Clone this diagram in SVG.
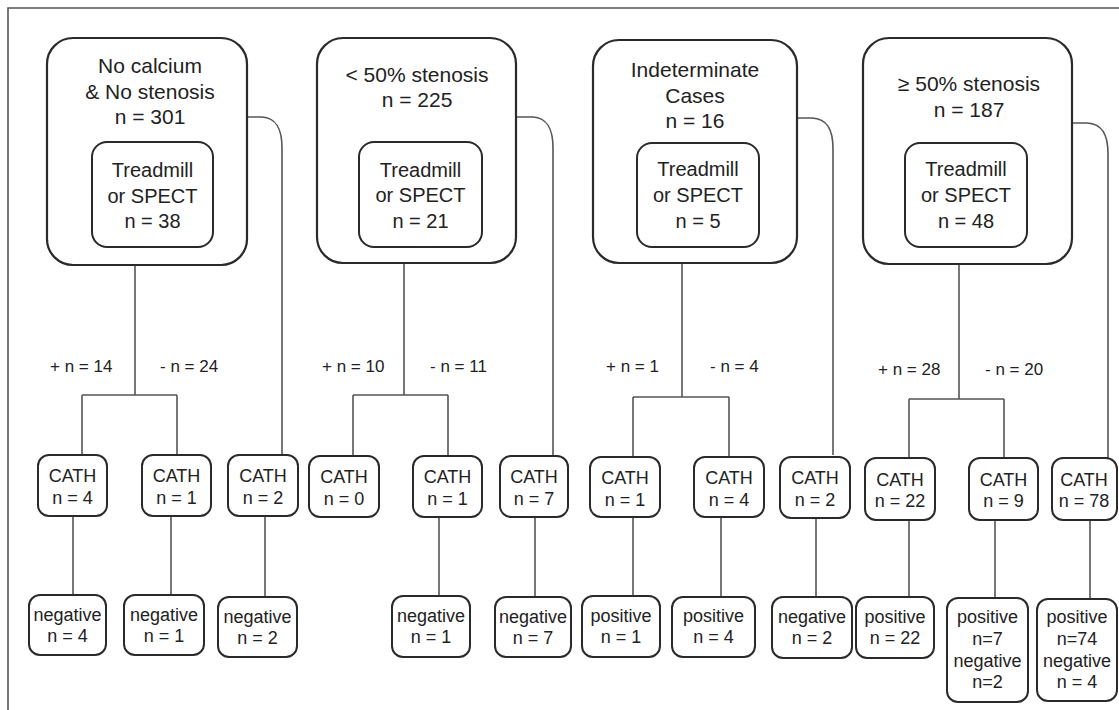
<svg xmlns="http://www.w3.org/2000/svg" width="1119" height="710" viewBox="0 0 1119 710">
<style>
.o{fill:#fff;stroke:#2a2a2a;stroke-width:2.2}
.b{fill:#fff;stroke:#2a2a2a;stroke-width:2}
.c{fill:none;stroke:#555;stroke-width:1.6}
text{font-family:"Liberation Sans",Arial,sans-serif;fill:#222;text-anchor:middle}
.t1{font-size:21px}
.t2{font-size:20px}
.t3{font-size:18px}
.lb{font-size:17px;text-anchor:start}
</style>
<rect x="0" y="0" width="1119" height="710" fill="#fff"/>
<path d="M8,710 V8 H1119" fill="none" stroke="#555" stroke-width="1.6"/>

<g id="connectors">
  <path class="c" d="M247,117 H262 C276,118 282,128 282,148 V455"/>
  <path class="c" d="M135,247 V395 M82,395 H177 M82,395 V455 M177,395 V455"/>
  <path class="c" d="M73,516 V595 M171,516 V595 M265,516 V597"/>
  <path class="c" d="M516,117 H533 C547,118 553,128 553,148 V455"/>
  <path class="c" d="M404,247 V395 M353,395 H448 M353,395 V455 M448,395 V455"/>
  <path class="c" d="M439,517 V596 M535,517 V597"/>
  <path class="c" d="M797,118 H812 C827,119 833,129 833,149 V455"/>
  <path class="c" d="M682,247 V397 M633,397 H729 M633,397 V457 M729,397 V457"/>
  <path class="c" d="M633,517 V596 M721,517 V597 M816,518 V597"/>
  <path class="c" d="M1072,123 H1087 C1102,124 1108,134 1108,154 V458"/>
  <path class="c" d="M959,247 V399 M909,399 H1004 M909,399 V458 M1004,399 V458"/>
  <path class="c" d="M909,520 V597 M995,520 V598 M1090,520 V599"/>
</g>

<g id="labels">
  <text class="lb" x="50" y="372">+ n = 14</text>
  <text class="lb" x="160" y="372">- n = 24</text>
  <text class="lb" x="322" y="372">+ n = 10</text>
  <text class="lb" x="430" y="372">- n = 11</text>
  <text class="lb" x="606" y="372">+ n = 1</text>
  <text class="lb" x="710" y="372">- n = 4</text>
  <text class="lb" x="878" y="375">+ n = 28</text>
  <text class="lb" x="985" y="375">- n = 20</text>
</g>

<g id="group-no-calcium">
  <rect class="o" x="47" y="38" width="200" height="227" rx="26"/>
  <text class="t1" x="150" y="73">No calcium</text>
  <text class="t1" x="150" y="99">&amp; No stenosis</text>
  <text class="t1" x="150" y="124">n = 301</text>
</g>
<g id="test-1">
  <rect class="b" x="92" y="142" width="121" height="105" rx="15"/>
  <text class="t2" x="152.5" y="177">Treadmill</text>
  <text class="t2" x="152.5" y="203">or SPECT</text>
  <text class="t2" x="152.5" y="228">n = 38</text>
</g>
<g id="cath-1a">
  <rect class="b" x="38" y="455" width="69" height="61" rx="11"/>
  <text class="t3" x="72.5" y="482">CATH</text>
  <text class="t3" x="72.5" y="504">n = 4</text>
</g>
<g id="cath-1b">
  <rect class="b" x="142" y="455" width="69" height="61" rx="11"/>
  <text class="t3" x="176.5" y="482">CATH</text>
  <text class="t3" x="176.5" y="504">n = 1</text>
</g>
<g id="cath-1c">
  <rect class="b" x="228" y="455" width="70" height="61" rx="11"/>
  <text class="t3" x="263" y="482">CATH</text>
  <text class="t3" x="263" y="504">n = 2</text>
</g>
<g id="res-1a">
  <rect class="b" x="29" y="595" width="77" height="60" rx="11"/>
  <text class="t3" x="67.5" y="621">negative</text>
  <text class="t3" x="67.5" y="642">n = 4</text>
</g>
<g id="res-1b">
  <rect class="b" x="124" y="595" width="80" height="60" rx="11"/>
  <text class="t3" x="164" y="621">negative</text>
  <text class="t3" x="164" y="642">n = 1</text>
</g>
<g id="res-1c">
  <rect class="b" x="218" y="597" width="79" height="60" rx="11"/>
  <text class="t3" x="257.5" y="623">negative</text>
  <text class="t3" x="257.5" y="644">n = 2</text>
</g>

<g id="group-lt50">
  <rect class="o" x="317" y="38" width="199" height="225" rx="26"/>
  <text class="t1" x="417" y="82">&lt; 50% stenosis</text>
  <text class="t1" x="417" y="107">n = 225</text>
</g>
<g id="test-2">
  <rect class="b" x="359" y="142" width="123" height="105" rx="15"/>
  <text class="t2" x="420.5" y="177">Treadmill</text>
  <text class="t2" x="420.5" y="202">or SPECT</text>
  <text class="t2" x="420.5" y="228">n = 21</text>
</g>
<g id="cath-2a">
  <rect class="b" x="309" y="456" width="70" height="61" rx="11"/>
  <text class="t3" x="344" y="483">CATH</text>
  <text class="t3" x="344" y="505">n = 0</text>
</g>
<g id="cath-2b">
  <rect class="b" x="413" y="456" width="69" height="61" rx="11"/>
  <text class="t3" x="447.5" y="483">CATH</text>
  <text class="t3" x="447.5" y="505">n = 1</text>
</g>
<g id="cath-2c">
  <rect class="b" x="500" y="456" width="68" height="61" rx="11"/>
  <text class="t3" x="534" y="483">CATH</text>
  <text class="t3" x="534" y="505">n = 7</text>
</g>
<g id="res-2b">
  <rect class="b" x="392" y="596" width="78" height="61" rx="11"/>
  <text class="t3" x="431" y="622">negative</text>
  <text class="t3" x="431" y="643">n = 1</text>
</g>
<g id="res-2c">
  <rect class="b" x="495" y="597" width="76" height="60" rx="11"/>
  <text class="t3" x="533" y="623">negative</text>
  <text class="t3" x="533" y="644">n = 7</text>
</g>

<g id="group-indeterminate">
  <rect class="o" x="593" y="40" width="204" height="223" rx="26"/>
  <text class="t1" x="695" y="77">Indeterminate</text>
  <text class="t1" x="695" y="103">Cases</text>
  <text class="t1" x="695" y="128">n = 16</text>
</g>
<g id="test-3">
  <rect class="b" x="637" y="143" width="122" height="104" rx="15"/>
  <text class="t2" x="698" y="176">Treadmill</text>
  <text class="t2" x="698" y="202">or SPECT</text>
  <text class="t2" x="698" y="228">n = 5</text>
</g>
<g id="cath-3a">
  <rect class="b" x="590" y="457" width="70" height="60" rx="11"/>
  <text class="t3" x="625" y="484">CATH</text>
  <text class="t3" x="625" y="506">n = 1</text>
</g>
<g id="cath-3b">
  <rect class="b" x="694" y="457" width="70" height="60" rx="11"/>
  <text class="t3" x="729" y="484">CATH</text>
  <text class="t3" x="729" y="506">n = 4</text>
</g>
<g id="cath-3c">
  <rect class="b" x="780" y="457" width="70" height="61" rx="11"/>
  <text class="t3" x="815" y="484">CATH</text>
  <text class="t3" x="815" y="506">n = 2</text>
</g>
<g id="res-3a">
  <rect class="b" x="582" y="596" width="78" height="61" rx="11"/>
  <text class="t3" x="621" y="622">positive</text>
  <text class="t3" x="621" y="643">n = 1</text>
</g>
<g id="res-3b">
  <rect class="b" x="672" y="597" width="83" height="60" rx="11"/>
  <text class="t3" x="713.5" y="622">positive</text>
  <text class="t3" x="713.5" y="643">n = 4</text>
</g>
<g id="res-3c">
  <rect class="b" x="772" y="597" width="80" height="61" rx="11"/>
  <text class="t3" x="812" y="623">negative</text>
  <text class="t3" x="812" y="644">n = 2</text>
</g>

<g id="group-ge50">
  <rect class="o" x="863" y="38" width="209" height="226" rx="26"/>
  <text class="t1" x="969" y="91">≥ 50% stenosis</text>
  <text class="t1" x="969" y="117">n = 187</text>
</g>
<g id="test-4">
  <rect class="b" x="905" y="143" width="122" height="104" rx="15"/>
  <text class="t2" x="966" y="176">Treadmill</text>
  <text class="t2" x="966" y="202">or SPECT</text>
  <text class="t2" x="966" y="228">n = 48</text>
</g>
<g id="cath-4a">
  <rect class="b" x="865" y="458" width="70" height="62" rx="11"/>
  <text class="t3" x="900" y="486">CATH</text>
  <text class="t3" x="900" y="507">n = 22</text>
</g>
<g id="cath-4b">
  <rect class="b" x="969" y="458" width="69" height="62" rx="11"/>
  <text class="t3" x="1003.5" y="486">CATH</text>
  <text class="t3" x="1003.5" y="507">n = 9</text>
</g>
<g id="cath-4c">
  <rect class="b" x="1052" y="458" width="65" height="62" rx="11"/>
  <text class="t3" x="1084" y="486">CATH</text>
  <text class="t3" x="1084" y="507">n = 78</text>
</g>
<g id="res-4a">
  <rect class="b" x="856" y="597" width="78" height="61" rx="11"/>
  <text class="t3" x="895" y="623">positive</text>
  <text class="t3" x="895" y="644">n = 22</text>
</g>
<g id="res-4b">
  <rect class="b" x="947" y="598" width="81" height="104" rx="11"/>
  <text class="t3" x="987.5" y="623">positive</text>
  <text class="t3" x="987.5" y="645">n=7</text>
  <text class="t3" x="987.5" y="667">negative</text>
  <text class="t3" x="987.5" y="688">n=2</text>
</g>
<g id="res-4c">
  <rect class="b" x="1037" y="599" width="80" height="102" rx="11"/>
  <text class="t3" x="1077" y="623">positive</text>
  <text class="t3" x="1077" y="645">n=74</text>
  <text class="t3" x="1077" y="667">negative</text>
  <text class="t3" x="1077" y="688">n = 4</text>
</g>
</svg>
